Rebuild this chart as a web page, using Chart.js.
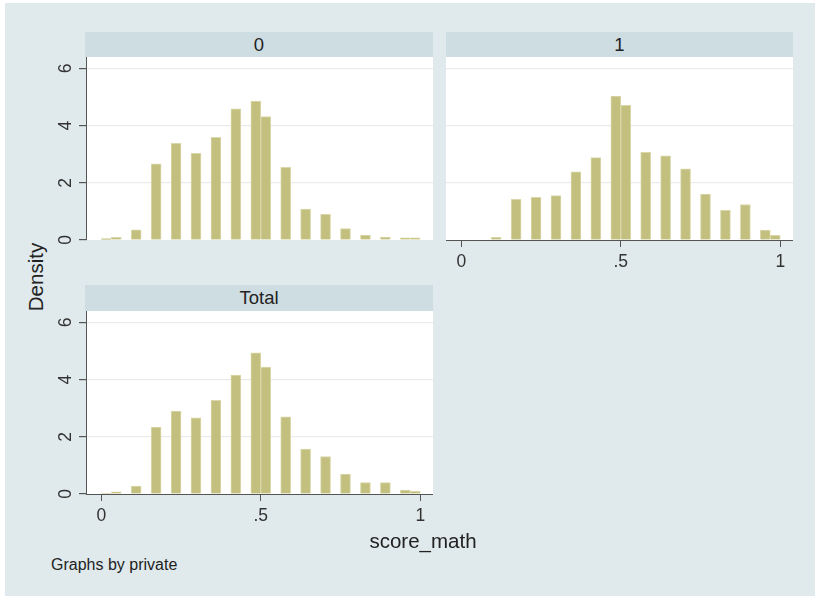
<!DOCTYPE html>
<html>
<head>
<meta charset="utf-8">
<script src="https://cdn.jsdelivr.net/npm/chart.js@4.4.1/dist/chart.umd.min.js"></script>
<style>
  body { margin: 0; background: #fff; font-family: 'Liberation Sans', Arial, sans-serif; }
  #bg { position: absolute; left: 5px; top: 3px; width: 810px; height: 593px; background: #e0e9eb; }
  .strip { position: absolute; background: #cedde2; color: #222; font-size: 18.5px; text-align: center; }
  canvas { position: absolute; }
  .lbl { position: absolute; color: #222; white-space: nowrap; }
</style>
</head>
<body>
<div id="bg"></div>

<div class="strip" style="left:85px; top:32px; width:348px; height:25px; line-height:25px;">0</div>
<div class="strip" style="left:446px; top:32px; width:347px; height:25px; line-height:25px;">1</div>
<div class="strip" style="left:85px; top:285px; width:348px; height:26px; line-height:26px;">Total</div>

<canvas id="c0" width="377" height="193" style="left:56px; top:57px;"></canvas>
<canvas id="c1" width="347" height="219" style="left:446px; top:57px;"></canvas>
<canvas id="cT" width="377" height="219" style="left:56px; top:311px;"></canvas>

<div class="lbl" style="left:35.5px; top:277px; font-size:20.5px; line-height:20.5px; transform:translate(-50%,-50%) rotate(-90deg);">Density</div>
<div class="lbl" style="left:423px; top:530.5px; font-size:20.5px; line-height:20.5px; transform:translateX(-50%);">score_math</div>
<div class="lbl" style="left:51px; top:556.5px; font-size:16px; line-height:16px;">Graphs by private</div>

<script>
// histogram bins (left edges), width 1/32
const binWidth = 0.03125;
const binStarts = [0, 0.03125, 0.09375, 0.15625, 0.21875, 0.28125, 0.34375, 0.40625, 0.46875,
                   0.5, 0.5625, 0.625, 0.6875, 0.75, 0.8125, 0.875, 0.9375, 0.96875];

// density per bin
const density0 = [0.05, 0.09, 0.36, 2.66, 3.38, 3.03, 3.59, 4.59, 4.86,
                  4.32, 2.54, 1.08, 0.90, 0.40, 0.17, 0.10, 0.08, 0.08];
const density1 = [null, null, 0.09, 1.42, 1.49, 1.55, 2.38, 2.88, 5.03,
                  4.71, 3.07, 2.94, 2.49, 1.61, 1.04, 1.24, 0.35, 0.16];
const densityTotal = [0.03, 0.08, 0.28, 2.34, 2.90, 2.66, 3.28, 4.16, 4.94,
                      4.44, 2.70, 1.57, 1.31, 0.70, 0.40, 0.40, 0.14, 0.09];

const xTickValues = [0, 0.5, 1];
const xTickLabels = ['0', '.5', '1'];
const yTickValues = [0, 2, 4, 6];
const yTickLabels = ['0', '2', '4', '6'];

const xMin = -0.048, xMax = 1.04;
const yMax = 6.4;
const axisColor = '#555';
const gridColor = '#ebebeb';
const fontFamily = "'Liberation Sans', Arial, sans-serif";

// white plot region
const plotBg = {
  id: 'plotBg',
  beforeDraw(chart) {
    const a = chart.chartArea, ctx = chart.ctx;
    ctx.save();
    ctx.fillStyle = '#fff';
    ctx.fillRect(a.left, a.top, a.right - a.left, a.bottom - a.top);
    ctx.restore();
  }
};

// stata style y labels, turned 90 degrees
const yLabels = {
  id: 'yLabels',
  afterDraw(chart, args, opts) {
    if (!opts.show) return;
    const s = chart.scales.y, ctx = chart.ctx;
    ctx.save();
    ctx.fillStyle = '#333';
    ctx.font = '17.5px ' + fontFamily;
    ctx.textAlign = 'center';
    ctx.textBaseline = 'alphabetic';
    yTickValues.forEach((v, i) => {
      ctx.save();
      ctx.translate(chart.chartArea.left - 15, s.getPixelForValue(v));
      ctx.rotate(-Math.PI / 2);
      ctx.fillText(yTickLabels[i], 0, 0);
      ctx.restore();
    });
    ctx.restore();
  }
};

function drawPanel(id, values, showY, showX) {
  new Chart(document.getElementById(id), {
    type: 'bar',
    data: {
      datasets: [{
        data: binStarts.map((s, i) => ({ x: s + binWidth / 2, y: values[i] })),
        backgroundColor: '#c3c07f',
        borderColor: '#dad8ab',
        borderWidth: 1,
        barPercentage: 1,
        categoryPercentage: 1,
      }],
    },
    options: {
      responsive: false,
      animation: false,
      events: [],
      layout: { padding: { bottom: showX ? 0 : 10 } },
      plugins: {
        legend: { display: false },
        tooltip: { enabled: false },
        yLabels: { show: showY },
      },
      scales: {
        x: {
          type: 'linear',
          min: xMin,
          max: xMax,
          offset: false,
          display: showX,
          afterBuildTicks: (s) => { s.ticks = xTickValues.map((v) => ({ value: v })); },
          afterFit: (s) => { if (showX) s.height = 36; },
          grid: { offset: false, drawOnChartArea: false, drawTicks: true, tickLength: 7, tickColor: axisColor },
          border: { display: true, color: axisColor, width: 1 },
          ticks: {
            padding: 5,
            color: '#333',
            font: { size: 17.5, family: fontFamily },
            maxRotation: 0,
            autoSkip: false,
            callback: (v, i) => xTickLabels[i],
          },
        },
        y: {
          min: 0,
          max: yMax,
          afterBuildTicks: (s) => { s.ticks = yTickValues.map((v) => ({ value: v })); },
          afterFit: (s) => { s.width = showY ? 30 : 0; },
          grid: {
            color: (c) => (c.tick && c.tick.value === 0 ? 'rgba(0,0,0,0)' : gridColor),
            lineWidth: 1.2,
            drawTicks: showY,
            tickLength: 7,
            tickColor: axisColor,
          },
          border: { display: showY, color: axisColor, width: 1 },
          ticks: { display: false },
        },
      },
    },
    plugins: [plotBg, yLabels],
  });
}

drawPanel('c0', density0, true, false);
drawPanel('c1', density1, false, true);
drawPanel('cT', densityTotal, true, true);
</script>
</body>
</html>
